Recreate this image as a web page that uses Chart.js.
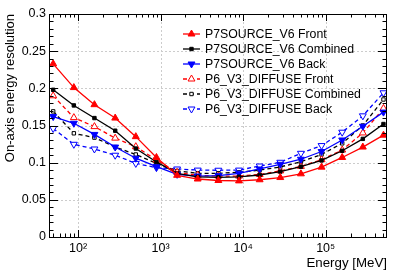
<!DOCTYPE html>
<html>
<head>
<meta charset="utf-8">
<script src="https://cdn.jsdelivr.net/npm/chart.js@4.4.0/dist/chart.umd.min.js"></script>
<style>
  html, body { margin: 0; padding: 0; background: #fff; }
</style>
</head>
<body>
<canvas id="myChart" width="399" height="274"></canvas>
<script>
// energy bin centres [MeV]
const energy = [50, 89, 158, 282, 501, 891, 1585, 2818, 5012, 8913, 15849, 28184, 50119, 89125, 158489, 281838, 501187];

const p7Front    = [0.233, 0.201, 0.178, 0.160, 0.135, 0.107, 0.083, 0.078, 0.076, 0.0755, 0.077, 0.080, 0.085, 0.094, 0.107, 0.121, 0.137];
const p7Combined = [0.198, 0.177, 0.160, 0.143, 0.119, 0.101, 0.0857, 0.081, 0.0803, 0.081, 0.0834, 0.088, 0.0946, 0.103, 0.116, 0.132, 0.152];
const p7Back     = [0.162, 0.153, 0.138, 0.121, 0.106, 0.0946, 0.0843, 0.082, 0.0825, 0.0857, 0.0915, 0.0978, 0.1046, 0.115, 0.1305, 0.149, 0.168];
const p6Front    = [0.190, 0.1606, 0.1485, 0.133, 0.1215, 0.1036, 0.087, 0.083, 0.082, 0.082, 0.084, 0.089, 0.095, 0.104, 0.117, 0.140, 0.173];
const p6Combined = [0.169, 0.1395, 0.1337, 0.121, 0.111, 0.099, 0.0888, 0.0857, 0.0857, 0.087, 0.090, 0.0942, 0.1013, 0.111, 0.126, 0.150, 0.185];
const p6Back     = [0.146, 0.1247, 0.1184, 0.110, 0.099, 0.0933, 0.0915, 0.090, 0.0898, 0.090, 0.0955, 0.1005, 0.1126, 0.123, 0.141, 0.163, 0.194];

const seriesNames = [
  "P7SOURCE_V6 Front",
  "P7SOURCE_V6 Combined",
  "P7SOURCE_V6 Back",
  "P6_V3_DIFFUSE Front",
  "P6_V3_DIFFUSE Combined",
  "P6_V3_DIFFUSE Back",
];

const xTickValues = [100, 1000, 10000, 100000];
const xTickLabels = ["10\u00b2", "10\u00b3", "10\u2074", "10\u2075"];
const yTickValues = [0, 0.05, 0.1, 0.15, 0.2, 0.25, 0.3];

const FONT = "'Liberation Sans', Arial, Helvetica, sans-serif";

function pts(values) {
  return values.map((v, i) => ({ x: energy[i], y: v }));
}

function makeSet(label, values, color, dashed, style, rotation, open) {
  return {
    label: label,
    data: pts(values),
    borderColor: color,
    borderWidth: 1.3,
    borderDash: dashed ? [4, 3] : [],
    pointStyle: style,
    rotation: rotation,
    pointRadius: style === "rect" ? 2.4 : 4,
    pointBorderWidth: 1,
    pointBorderColor: color,
    pointBackgroundColor: open ? "#ffffff" : color,
    tension: 0,
    fill: false,
  };
}

const datasets = [
  makeSet(seriesNames[0], p7Front, "#ff0000", false, "triangle", 0, false),
  makeSet(seriesNames[1], p7Combined, "#000000", false, "rect", 0, false),
  makeSet(seriesNames[2], p7Back, "#0000ff", false, "triangle", 180, false),
  makeSet(seriesNames[3], p6Front, "#ff0000", true, "triangle", 0, true),
  makeSet(seriesNames[4], p6Combined, "#000000", true, "rect", 0, true),
  makeSet(seriesNames[5], p6Back, "#0000ff", true, "triangle", 180, true),
];

function hline(ctx, x1, y1, x2, y2) {
  ctx.beginPath();
  ctx.moveTo(x1, y1);
  ctx.lineTo(x2, y2);
  ctx.stroke();
}

// ROOT-like frame: dotted grid, inner ticks, legend and axis titles
const rootStyle = {
  id: "rootStyle",
  beforeDatasetsDraw(chart) {
    const { ctx, chartArea: a, scales: { x, y } } = chart;
    ctx.save();
    ctx.strokeStyle = "#cccccc";
    ctx.lineWidth = 1;
    ctx.setLineDash([2, 2]);
    xTickValues.forEach((v) => {
      const px = Math.round(x.getPixelForValue(v)) + 0.5;
      hline(ctx, px, a.top, px, a.bottom);
    });
    yTickValues.slice(1, -1).forEach((v) => {
      const py = Math.round(y.getPixelForValue(v)) + 0.5;
      hline(ctx, a.left, py, a.right, py);
    });
    ctx.restore();
  },
  afterDatasetsDraw(chart) {
    const { ctx, chartArea: a, scales: { x, y } } = chart;
    ctx.save();
    ctx.strokeStyle = "#000";
    ctx.lineWidth = 1;
    ctx.setLineDash([]);
    ctx.strokeRect(Math.round(a.left) + 0.5, Math.round(a.top) + 0.5,
      Math.round(a.right - a.left) - 1, Math.round(a.bottom - a.top));

    // y ticks (left and right), minor every 0.01
    for (let i = 0; i <= 30; i++) {
      const v = i / 100;
      const py = Math.round(y.getPixelForValue(v)) + 0.5;
      const len = i % 5 === 0 ? 9 : 4.5;
      hline(ctx, a.left, py, a.left + len, py);
      hline(ctx, a.right, py, a.right - len, py);
    }
    // x ticks (bottom and top), log minors
    for (let e = 1; e <= 5; e++) {
      for (let m = 1; m <= 9; m++) {
        const v = m * Math.pow(10, e);
        if (v < x.min || v > x.max) continue;
        const px = Math.round(x.getPixelForValue(v)) + 0.5;
        const len = m === 1 ? 7 : 3.5;
        hline(ctx, px, a.bottom, px, a.bottom - len);
        hline(ctx, px, a.top, px, a.top + len);
      }
    }
    ctx.restore();
  },
  afterDraw(chart) {
    const { ctx, chartArea: a } = chart;
    ctx.save();

    // legend
    ctx.font = "12.3px " + FONT;
    ctx.textBaseline = "middle";
    ctx.textAlign = "left";
    chart.data.datasets.forEach((ds, i) => {
      const yy = 34 + i * 15;
      ctx.strokeStyle = ds.borderColor;
      ctx.lineWidth = ds.borderWidth;
      ctx.setLineDash(ds.borderDash);
      hline(ctx, 183, yy, 200, yy);
      ctx.setLineDash([]);
      ctx.fillStyle = ds.pointBackgroundColor;
      ctx.strokeStyle = ds.pointBorderColor;
      ctx.lineWidth = 1;
      Chart.helpers.drawPoint(ctx, {
        pointStyle: ds.pointStyle,
        radius: ds.pointRadius,
        rotation: ds.rotation,
        borderWidth: 1,
      }, 191.5, yy);
      ctx.fillStyle = "#000";
      ctx.fillText(ds.label, 205, yy + 0.5);
    });

    // axis titles
    ctx.fillStyle = "#000";
    ctx.font = "13.3px " + FONT;
    ctx.textAlign = "right";
    ctx.textBaseline = "alphabetic";
    ctx.fillText("Energy [MeV]", a.right, 267);

    ctx.translate(14, a.top);
    ctx.rotate(-Math.PI / 2);
    ctx.font = "13px " + FONT;
    ctx.textAlign = "right";
    ctx.fillText("On-axis energy resolution", 0, 0);
    ctx.restore();
  },
};

const ctx = document.getElementById("myChart");

new Chart(ctx, {
  type: "line",
  data: { datasets: datasets },
  plugins: [rootStyle],
  options: {
    responsive: false,
    animation: false,
    devicePixelRatio: 1,
    layout: { padding: { top: 14, right: 12, left: 0, bottom: 0 } },
    plugins: {
      legend: { display: false },
      tooltip: { enabled: false },
    },
    scales: {
      x: {
        type: "logarithmic",
        min: 44.5,
        max: 553000,
        grid: { display: false, drawTicks: false },
        border: { display: false },
        afterBuildTicks: (scale) => {
          scale.ticks = xTickValues.map((v) => ({ value: v }));
        },
        afterFit: (scale) => {
          scale.height = 37;
        },
        ticks: {
          autoSkip: false,
          maxRotation: 0,
          padding: 4,
          color: "#000",
          font: { family: FONT, size: 12.5 },
          callback: (v) => xTickLabels[xTickValues.indexOf(v)],
        },
      },
      y: {
        type: "linear",
        min: 0,
        max: 0.3,
        grid: { display: false, drawTicks: false },
        border: { display: false },
        afterBuildTicks: (scale) => {
          scale.ticks = yTickValues.map((v) => ({ value: v }));
        },
        afterFit: (scale) => {
          scale.width = 49;
        },
        ticks: {
          padding: 3,
          color: "#000",
          font: { family: FONT, size: 12.5 },
          callback: (v) => String(+v.toFixed(2)),
        },
      },
    },
  },
});
</script>
</body>
</html>
